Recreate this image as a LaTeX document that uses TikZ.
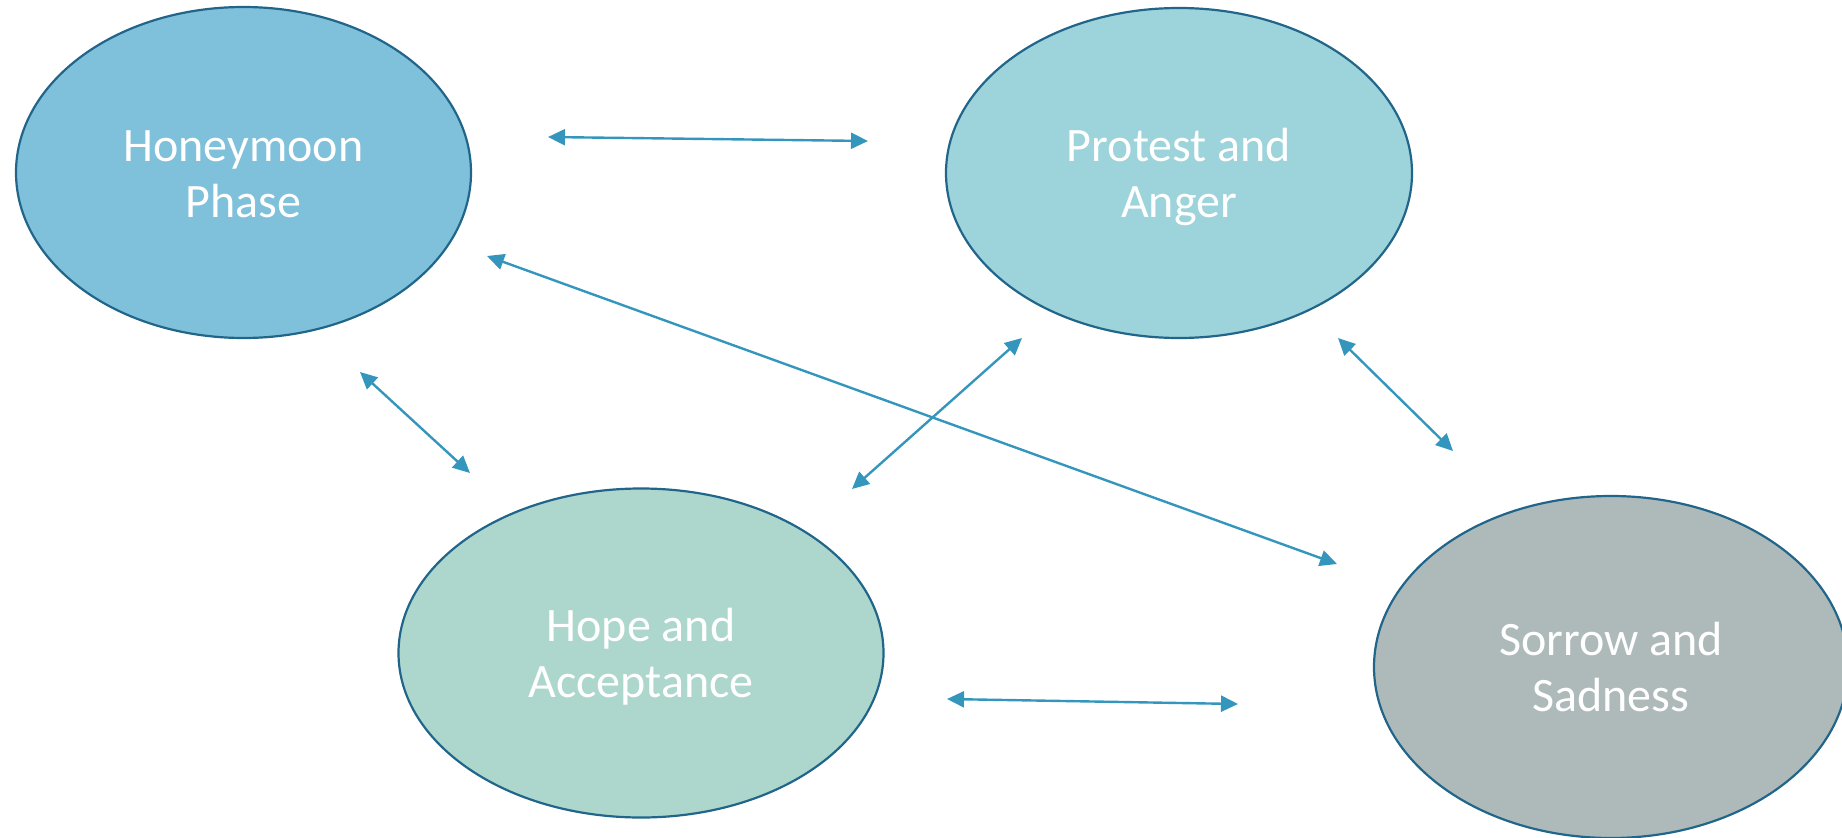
\documentclass[tikz,border=0pt]{standalone}
\usepackage{fontspec}
\setmainfont{Carlito}
\usetikzlibrary{arrows.meta,shapes.geometric}
\definecolor{cHoney}{HTML}{7FC0DA}
\definecolor{cProtest}{HTML}{9DD3DA}
\definecolor{cHope}{HTML}{ADD7CD}
\definecolor{cSorrow}{HTML}{AEBABA}
\definecolor{cBorder}{HTML}{21668A}
\definecolor{cArrow}{HTML}{3596BD}
\begin{document}
\begin{tikzpicture}[x=1pt,y=-1pt,
  phase/.style={ellipse, draw=cBorder, line width=2.2pt, inner sep=0pt, text=white,
    font=\fontsize{48}{56}\selectfont, align=center, text height=89pt, text depth=0pt},
  link/.style={cArrow, line width=2.4pt,
    {Triangle[length=17pt,width=16pt]}-{Triangle[length=17pt,width=16pt]}}]
\useasboundingbox (0,0) rectangle (1842,838);
\clip (0,0) rectangle (1842,838);
\node[phase, fill=cHoney, minimum width=455pt, minimum height=331pt] (honey) at (243.5,172.5) {Honeymoon\\Phase};
\node[phase, fill=cProtest, minimum width=466pt, minimum height=330pt] (protest) at (1179,173) {Protest and\\Anger};
\node[phase, fill=cHope, minimum width=485pt, minimum height=329pt] (hope) at (641,653) {Hope and\\Acceptance};
\node[phase, fill=cSorrow, minimum width=474pt, minimum height=342pt] (sorrow) at (1611,667) {Sorrow and\\Sadness};
% free arrow ends
\coordinate (hpA) at (548,137);  \coordinate (hpB) at (868,141);
\coordinate (hhA) at (360,372);  \coordinate (hhB) at (470,473);
\coordinate (phA) at (1022,338); \coordinate (phB) at (852,489);
\coordinate (psA) at (1338,338); \coordinate (psB) at (1453,451);
\coordinate (hsA) at (947,699);  \coordinate (hsB) at (1238,704);
\coordinate (dsA) at (487,256);  \coordinate (dsB) at (1337,564);
\draw[link] (hpA) -- (hpB);
\draw[link] (hhA) -- (hhB);
\draw[link] (phA) -- (phB);
\draw[link] (psA) -- (psB);
\draw[link] (hsA) -- (hsB);
\draw[link] (dsA) -- (dsB);
\end{tikzpicture}
\end{document}
